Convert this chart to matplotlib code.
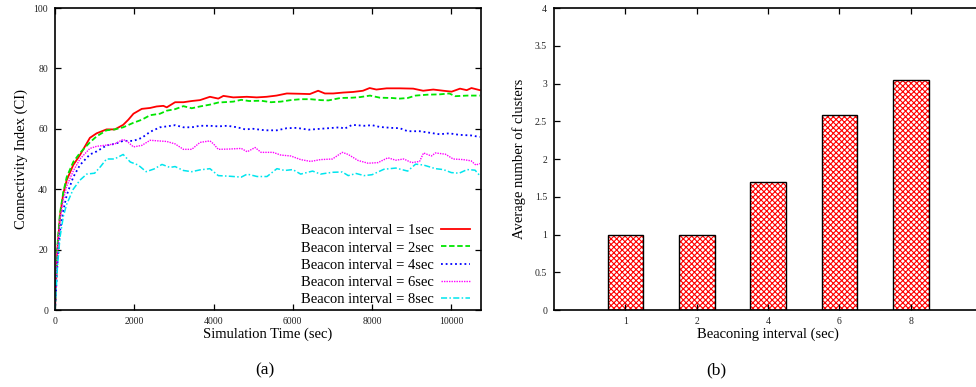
import matplotlib
matplotlib.use("Agg")
import matplotlib.pyplot as plt
from matplotlib.ticker import FormatStrFormatter

plt.rcParams['font.family'] = 'serif'
plt.rcParams['font.serif'] = ['Liberation Serif', 'DejaVu Serif']
plt.rcParams['hatch.linewidth'] = 0.8

# (a) connectivity index over simulation time, one series per beacon interval
t_1s = [0, 60, 125, 210, 295, 460, 630, 880, 1050, 1300, 1510, 1720, 1850, 1980, 2190, 2400, 2565,
        2735, 2820, 3030, 3240, 3450, 3660, 3910, 4120, 4250, 4500, 4840, 5090, 5340, 5590, 5850,
        6180, 6430, 6640, 6810, 7020, 7270, 7520, 7770, 7940, 8110, 8370, 8700, 9040, 9290, 9545,
        9800, 10010, 10220, 10390, 10510, 10720]
ci_1s = [0, 20, 31, 38.6, 43, 48, 51.3, 57, 58.5, 59.8, 59.8, 61.3, 63, 65, 66.6, 66.9, 67.4,
         67.6, 67.1, 68.8, 68.8, 69.2, 69.5, 70.6, 70, 70.9, 70.4, 70.6, 70.4, 70.6, 71, 71.7,
         71.6, 71.5, 72.6, 71.7, 71.7, 72, 72.2, 72.6, 73.5, 73, 73.4, 73.4, 73.3, 72.6, 73,
         72.6, 72.3, 73.3, 72.8, 73.5, 72.8]

t_2s = [0, 60, 125, 210, 295, 460, 630, 880, 1050, 1300, 1510, 1720, 1980, 2190, 2400, 2650, 2820,
        3030, 3240, 3450, 3660, 3910, 4120, 4500, 4700, 4900, 5200, 5450, 5700, 5950, 6200, 6450,
        6700, 6900, 7200, 7500, 7700, 7950, 8200, 8500, 8700, 8900, 9100, 9400, 9700, 9950, 10100,
        10400, 10720]
ci_2s = [0, 21, 32, 39, 44, 49, 52, 55.5, 57.5, 59.5, 59.8, 60.5, 62, 63, 64.5, 65, 66,
         66.5, 67.5, 66.8, 67.4, 68, 68.7, 69, 69.6, 69.2, 69.3, 68.8, 69.0, 69.5, 69.8, 69.8,
         69.5, 69.4, 70.2, 70.3, 70.5, 71, 70.3, 70.2, 70, 70.2, 71, 71.3, 71.4, 71.7, 70.8,
         71, 71]

t_4s = [0, 60, 125, 210, 295, 460, 630, 880, 1050, 1300, 1510, 1720, 1980, 2190, 2400, 2650, 2820,
        3030, 3240, 3450, 3660, 3910, 4120, 4350, 4600, 4800, 5000, 5300, 5600, 5850, 6100, 6400,
        6700, 7000, 7200, 7300, 7500, 7800, 8000, 8200, 8500, 8700, 8900, 9200, 9500, 9700, 9950,
        10200, 10500, 10720]
ci_4s = [0, 15, 26, 33, 38, 44, 48, 51.5, 52.5, 54.5, 55, 56, 56, 57, 59, 60.5, 60.8,
         61.2, 60.5, 60.5, 61, 61, 60.8, 61, 60.5, 59.8, 60, 59.5, 59.5, 60.2, 60.3, 59.7,
         60, 60.3, 60.5, 60.0, 61.3, 61, 61.2, 60.6, 60.3, 60.2, 59.2, 59.2, 58.6, 58.2, 58.5,
         58, 57.8, 57.3]

t_6s = [0, 60, 125, 210, 295, 460, 630, 880, 1050, 1300, 1510, 1720, 1850, 1980, 2190, 2400, 2600,
        2820, 3030, 3240, 3450, 3660, 3910, 4000, 4120, 4400, 4700, 4850, 5050, 5200, 5500, 5700,
        5950, 6200, 6450, 6700, 7000, 7250, 7400, 7650, 7900, 8150, 8400, 8600, 8800, 9000, 9200,
        9300, 9500, 9600, 9850, 10050, 10300, 10500, 10620, 10720]
ci_6s = [0, 19, 30, 36.5, 41, 46, 50, 53.5, 54.2, 54.6, 55.0, 56.5, 55.5, 54, 54.5, 56.2, 56,
         55.8, 55, 53.2, 53.2, 55.5, 56, 55.0, 53.2, 53.3, 53.5, 52.4, 53.8, 52.2, 52.2, 51.3,
         51.0, 49.8, 49.2, 49.8, 50.0, 52.2, 51.5, 49.5, 48.6, 48.8, 50.4, 49.6, 50.0, 48.8, 49.2,
         52.0, 51.0, 52.0, 51.6, 50.0, 49.8, 49.4, 48.0, 48.5]

t_8s = [0, 60, 125, 210, 295, 460, 630, 800, 1000, 1150, 1300, 1500, 1720, 1900, 2100, 2300, 2500,
        2700, 2900, 3030, 3240, 3450, 3660, 3910, 4120, 4400, 4700, 4850, 5100, 5350, 5600, 5800,
        6000, 6200, 6500, 6700, 7000, 7250, 7400, 7600, 7800, 8000, 8300, 8600, 8900, 9100, 9300,
        9600, 9800, 10000, 10200, 10400, 10600, 10720]
ci_8s = [0, 14, 24, 31, 35, 40, 43, 45, 45.3, 47.5, 50, 50, 51.5, 49, 48, 45.8, 46.7,
         48.2, 47.2, 47.5, 46.2, 45.8, 46.4, 46.8, 44.5, 44.3, 44.0, 45.0, 44.2, 44.2, 46.8, 46.2,
         46.5, 45.0, 46.0, 45.0, 45.6, 45.7, 44.5, 45.2, 44.5, 44.8, 46.6, 47.0, 46.0, 48.3, 48.0,
         46.8, 46.5, 45.5, 45.3, 46.5, 46.3, 44.5]

# (b) average number of clusters per beaconing interval
intervals = ['1', '2', '4', '6', '8']
clusters = [1.0, 1.0, 1.7, 2.58, 3.05]

W, H = 976, 387
fig = plt.figure(figsize=(W / 100, H / 100), dpi=100)

ax1 = fig.add_axes([55 / W, 1 - 310 / H, 426 / W, 302 / H])
ax1.plot(t_1s, ci_1s, color='#ff0000', lw=1.3, label='Beacon interval = 1sec')
ax1.plot(t_2s, ci_2s, color='#00e600', lw=1.3, dashes=(3, 1.5), label='Beacon interval = 2sec')
ax1.plot(t_4s, ci_4s, color='#0000ff', lw=1.3, dashes=(1, 1.6), label='Beacon interval = 4sec')
ax1.plot(t_6s, ci_6s, color='#ff00ff', lw=1.0, dashes=(1, 0.8), label='Beacon interval = 6sec')
ax1.plot(t_8s, ci_8s, color='#00e5ee', lw=1.1, dashes=(4, 1.5, 1, 1.5), label='Beacon interval = 8sec')
ax1.set_xlim(0, 10750)
ax1.set_ylim(0, 100)
ax1.set_xticks([0, 2000, 4000, 6000, 8000, 10000])
ax1.set_yticks([0, 20, 40, 60, 80, 100])
ax1.set_xlabel('Simulation Time (sec)', fontsize=10.5, labelpad=1)
ax1.set_ylabel('Connectivity Index (CI)', fontsize=10.5, labelpad=4)
ax1.legend(loc='lower right', bbox_to_anchor=(0.974, 0.012), frameon=False, markerfirst=False,
           fontsize=10.5, handlelength=2.0, handletextpad=0.45, labelspacing=0.28,
           borderpad=0, borderaxespad=0)

ax2 = fig.add_axes([554 / W, 1 - 310 / H, 428 / W, 302 / H])
xpos = [1, 2, 3, 4, 5]
ax2.bar(xpos, clusters, width=0.5, facecolor='white', edgecolor='#ff0000', hatch='xxxxxx', lw=0)
ax2.bar(xpos, clusters, width=0.5, fill=False, edgecolor='black', lw=1.0)
ax2.set_xlim(0, 6)
ax2.set_ylim(0, 4)
ax2.set_xticks(xpos)
ax2.set_xticklabels(intervals)
ax2.set_yticks([0, 0.5, 1, 1.5, 2, 2.5, 3, 3.5, 4])
ax2.yaxis.set_major_formatter(FormatStrFormatter('%g'))
ax2.set_xlabel('Beaconing interval (sec)', fontsize=10.5, labelpad=1)
ax2.set_ylabel('Average number of clusters', fontsize=10.5, labelpad=6)

for ax in (ax1, ax2):
    ax.tick_params(direction='in', length=4, width=0.9, top=True, right=True,
                   labelsize=7, colors='black', labelcolor='#222222', pad=5)
    for s in ax.spines.values():
        s.set_linewidth(1.2)

fig.text(265 / W, 1 - 370 / H, '(a)', fontsize=12.5, ha='center', va='center')
fig.text(716 / W, 1 - 370 / H, '(b)', fontsize=12.5, ha='center', va='center')

fig.savefig('out.png', dpi=100)
